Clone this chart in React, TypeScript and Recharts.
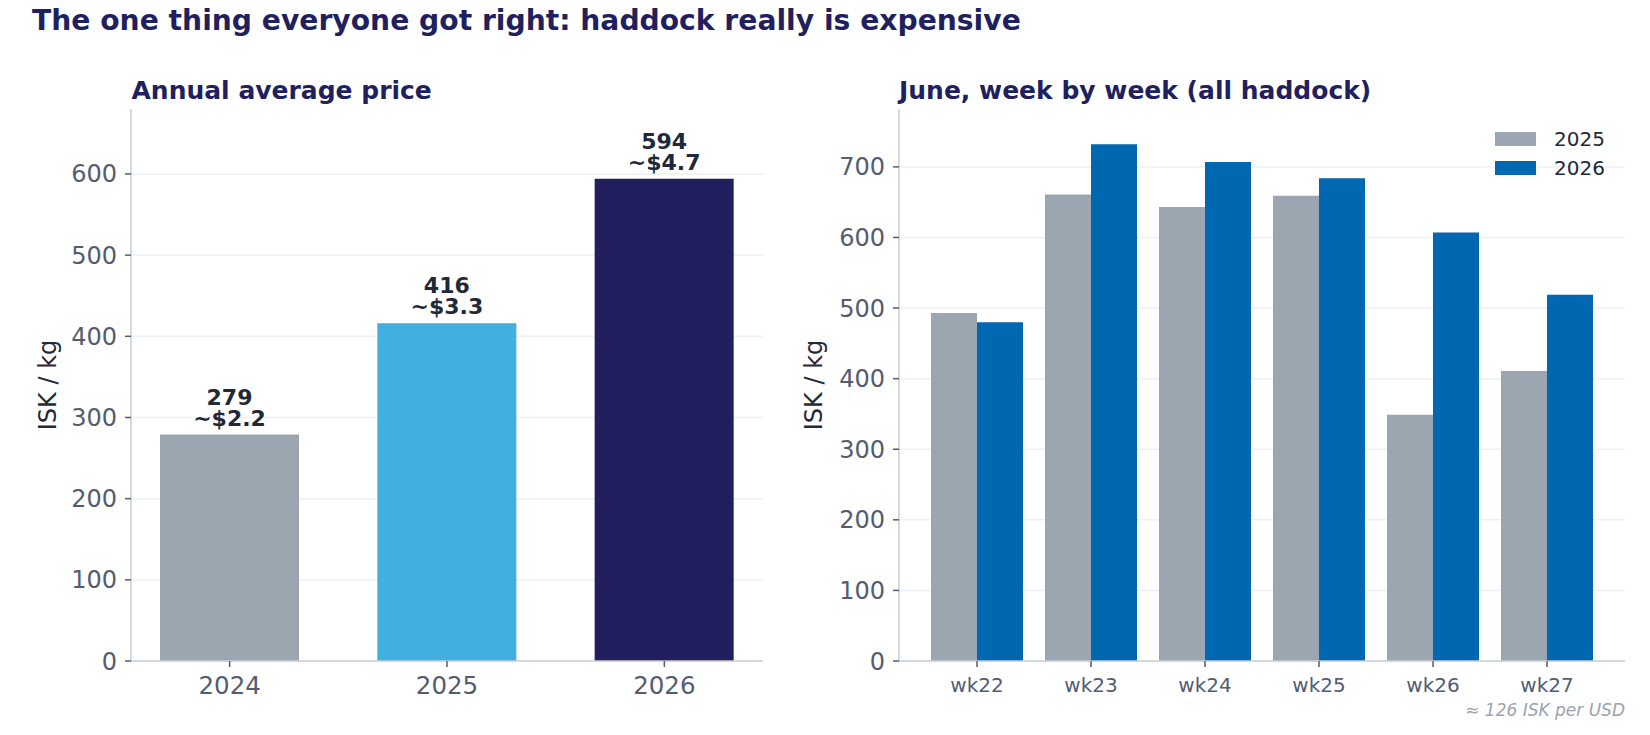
import React from 'react';
import { BarChart, Bar, XAxis, YAxis, CartesianGrid, Cell, LabelList, Legend } from 'recharts';

const FONT = '"DejaVu Sans", "Noto Sans", sans-serif';

const years = ['2024', '2025', '2026'];
const annualPrice = [279, 416, 594];
const annualUsd = ['~$2.2', '~$3.3', '~$4.7'];
const annualColors = ['#9ba6b1', '#41afe0', '#211f5e'];
const annualTicks = [0, 100, 200, 300, 400, 500, 600];

const weeks = ['wk22', 'wk23', 'wk24', 'wk25', 'wk26', 'wk27'];
const june2025 = [493, 661, 643, 659, 349, 411];
const june2026 = [480, 732, 707, 684, 607, 519];
const juneTicks = [0, 100, 200, 300, 400, 500, 600, 700];

const annualData = years.map((y, i) => ({ year: y, price: annualPrice[i], usd: annualUsd[i] }));
const juneData = weeks.map((w, i) => ({ week: w, y2025: june2025[i], y2026: june2026[i] }));

const TICK_COLOR = '#535c70';
const AXIS_COLOR = '#c9cfd8';
const GRID_COLOR = '#edf0f4';
const DARK = '#1f2937';
const NAVY = '#211f5e';

const AnnualLabel = (props: any) => {
  const { x, y, width, index } = props;
  const cx = x + width / 2;
  return (
    <g>
      <text x={cx} y={y - 30} textAnchor="middle" fontFamily={FONT} fontWeight="bold" fontSize={22} fill={DARK}>
        {annualPrice[index]}
      </text>
      <text x={cx} y={y - 9} textAnchor="middle" fontFamily={FONT} fontWeight="bold" fontSize={22} fill={DARK}>
        {annualUsd[index]}
      </text>
    </g>
  );
};

const yLabel = (cx: number) => (props: any) => {
  const { viewBox } = props;
  const cy = viewBox.y + viewBox.height / 2;
  return (
    <text x={cx} y={cy} transform={`rotate(-90, ${cx}, ${cy})`} textAnchor="middle" dominantBaseline="central" fontFamily={FONT} fontSize={24} fill={DARK}>
      ISK / kg
    </text>
  );
};

const LegendContent = (props: any) => {
  const { payload } = props;
  return (
    <div style={{ fontFamily: FONT }}>
      {(payload || []).map((p: any) => (
        <div key={p.value} style={{ display: 'flex', alignItems: 'center', height: 29.5 }}>
          <div style={{ width: 41, height: 14, background: p.color, marginRight: 18 }} />
          <span style={{ fontSize: 20, color: DARK }}>{p.value}</span>
        </div>
      ))}
    </div>
  );
};

export default function App() {
  return (
    <div style={{ position: 'absolute', left: 0, top: 0, width: 1650, height: 735, background: '#fff', overflow: 'hidden' }}>
      <svg style={{ position: 'absolute', left: 0, top: 0 }} width={1650} height={735}>
        <text x={32} y={30} fontFamily={FONT} fontWeight="bold" fontSize={28.2} fill={NAVY}>
          The one thing everyone got right: haddock really is expensive
        </text>
        <text x={131.5} y={99} fontFamily={FONT} fontWeight="bold" fontSize={25} fill={NAVY}>
          Annual average price
        </text>
        <text x={899} y={99} fontFamily={FONT} fontWeight="bold" fontSize={25} fill={NAVY}>
          June, week by week (all haddock)
        </text>
        <text x={1625} y={716} textAnchor="end" fontFamily={FONT} fontStyle="italic" fontSize={17} fill="#9ca3af">
          ≈ 126 ISK per USD
        </text>
      </svg>

      <div style={{ position: 'absolute', left: 0, top: 0 }}>
        <BarChart width={780} height={735} data={annualData} margin={{ top: 109, right: 17, bottom: 34, left: 61 }}>
          <CartesianGrid vertical={false} stroke={GRID_COLOR} strokeWidth={1.5} syncWithTicks />
          <XAxis
            dataKey="year"
            height={40}
            padding={{ left: -10, right: -10 }}
            stroke={AXIS_COLOR}
            strokeWidth={1.5}
            tickSize={6}
            tickMargin={10}
            tick={{ fill: TICK_COLOR, fontSize: 24.5, fontFamily: FONT }}
            tickLine={{ stroke: TICK_COLOR }}
          />
          <YAxis
            width={70}
            domain={[0, 680]}
            ticks={annualTicks}
            stroke={AXIS_COLOR}
            strokeWidth={1.5}
            tickSize={6}
            tickMargin={8}
            tick={{ fill: TICK_COLOR, fontSize: 24, fontFamily: FONT }}
            tickLine={{ stroke: TICK_COLOR }}
            label={{ content: yLabel(47.5) }}
          />
          <Bar dataKey="price" barSize={139} isAnimationActive={false}>
            {annualData.map((d, i) => (
              <Cell key={d.year} fill={annualColors[i]} />
            ))}
            <LabelList dataKey="price" content={AnnualLabel} />
          </Bar>
        </BarChart>
      </div>

      <div style={{ position: 'absolute', left: 790, top: 0 }}>
        <BarChart width={860} height={735} data={juneData} margin={{ top: 109, right: 25, bottom: 34, left: 39 }} barGap={0}>
          <CartesianGrid vertical={false} stroke={GRID_COLOR} strokeWidth={1.5} syncWithTicks />
          <XAxis
            dataKey="week"
            height={40}
            padding={{ left: 21, right: 21 }}
            stroke={AXIS_COLOR}
            strokeWidth={1.5}
            tickSize={6}
            tickMargin={11}
            tick={{ fill: TICK_COLOR, fontSize: 20, fontFamily: FONT }}
            tickLine={{ stroke: TICK_COLOR }}
          />
          <YAxis
            width={70}
            domain={[0, 782]}
            ticks={juneTicks}
            stroke={AXIS_COLOR}
            strokeWidth={1.5}
            tickSize={6}
            tickMargin={8}
            tick={{ fill: TICK_COLOR, fontSize: 24, fontFamily: FONT }}
            tickLine={{ stroke: TICK_COLOR }}
            label={{ content: yLabel(23.5) }}
          />
          <Legend
            content={LegendContent}
            layout="vertical"
            verticalAlign="middle"
            align="center"
            wrapperStyle={{ position: 'absolute', top: 124, left: 705, width: 120 }}
          />
          <Bar dataKey="y2025" name="2025" fill="#9ba6b1" barSize={46} isAnimationActive={false} />
          <Bar dataKey="y2026" name="2026" fill="#0067b0" barSize={46} isAnimationActive={false} />
        </BarChart>
      </div>
    </div>
  );
}
